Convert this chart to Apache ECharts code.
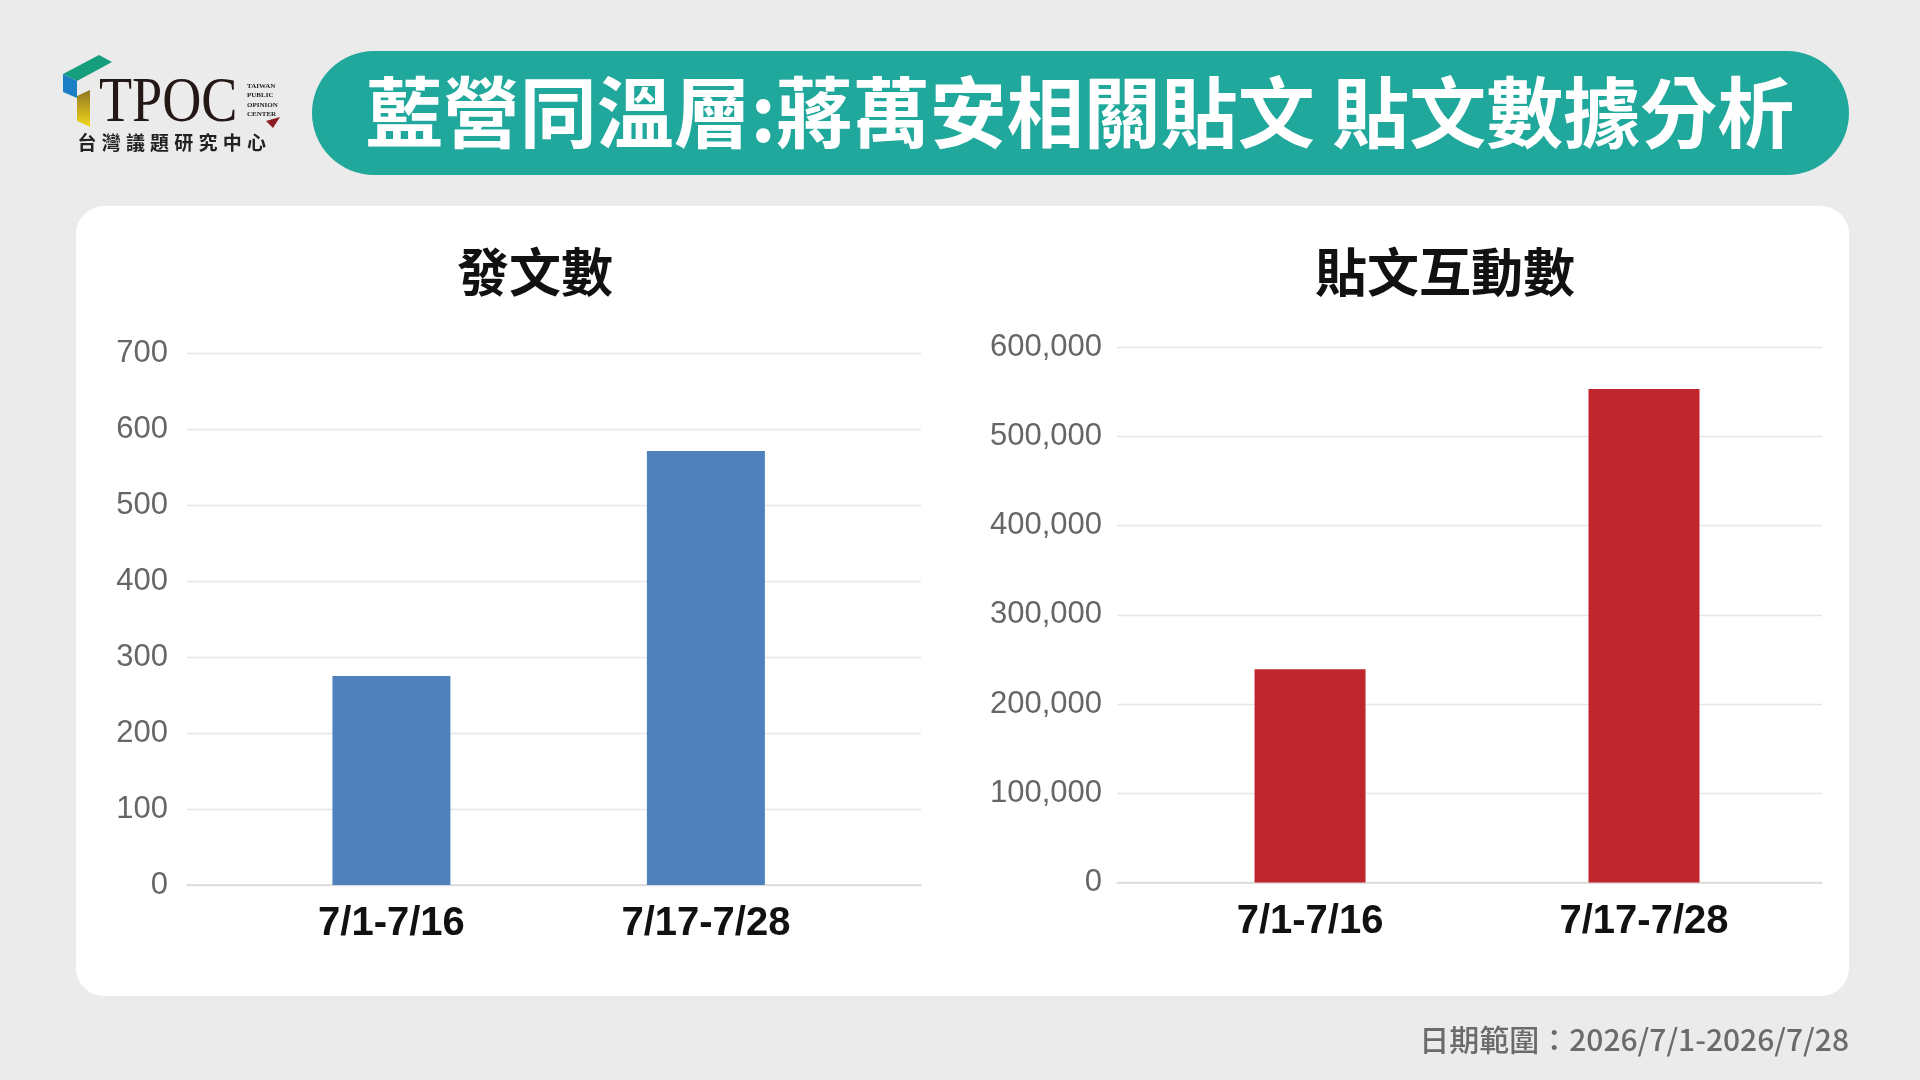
<!DOCTYPE html>
<html>
<head>
<meta charset="utf-8">
<script src="https://cdn.jsdelivr.net/npm/echarts@6/dist/echarts.min.js"></script>
<style>
  html, body { margin: 0; padding: 0; background: #ebebeb; }
  #chart { width: 1920px; height: 1080px; }
</style>
</head>
<body>
<div id="chart"></div>
<script>
// ============ 數據 ============
const periods = ['7/1-7/16', '7/17-7/28']
const postCounts = [275, 571]
const engagements = [239000, 553000]
const postAxis = { max: 700, interval: 100 }
const engageAxis = { max: 600000, interval: 100000 }

const mainTitle = '藍營同溫層:蔣萬安相關貼文 貼文數據分析'
const leftTitle = '發文數'
const rightTitle = '貼文互動數'
const footNote = '日期範圍：2026/7/1-2026/7/28'
const orgName = '台灣議題研究中心'
const orgLines = ['TAIWAN', 'PUBLIC', 'OPINION', 'CENTER']

const CJK = '"Noto Sans CJK TC", "Noto Sans CJK SC", sans-serif'
const NUM = '"Liberation Sans", Arial, sans-serif'

const chart = echarts.init(document.getElementById('chart'))

function withComma(v) {
  return String(v).replace(/\B(?=(\d{3})+(?!\d))/g, ',')
}

// 分類位置用數值軸，讓長條靠近中間
function categoryAxis(gridIndex, min, max) {
  return {
    type: 'value',
    gridIndex,
    min,
    max,
    splitLine: { show: false },
    axisTick: { show: false },
    axisLine: { show: true, onZero: false, lineStyle: { color: '#d9d9d9', width: 1.5 } },
    axisLabel: {
      customValues: [0, 1],
      formatter: (v) => periods[Math.round(v)] || '',
      color: '#111',
      fontFamily: NUM,
      fontWeight: 'bold',
      fontSize: 40,
      margin: 19,
    },
  }
}

function valueAxis(gridIndex, cfg, fmt) {
  return {
    type: 'value',
    gridIndex,
    min: 0,
    max: cfg.max,
    interval: cfg.interval,
    axisLine: { show: false, onZero: false },
    axisTick: { show: false },
    splitLine: { lineStyle: { color: '#e6e6e6', width: 1.3 } },
    axisLabel: {
      color: '#666',
      fontFamily: NUM,
      fontSize: 31,
      margin: gridIndex === 0 ? 19 : 15,
      formatter: fmt,
    },
  }
}

// ============ 標誌 ============
const logoText = orgName.split('').map((ch, i) => ({
  type: 'text',
  x: 87 + i * 24.2,
  y: 143,
  style: {
    text: ch, fill: '#222', font: 'bold 19px ' + CJK,
    align: 'center', verticalAlign: 'middle',
  },
}))

const logoLines = orgLines.map((t, i) => ({
  type: 'text',
  x: 247,
  y: 86 + i * 9.5,
  style: {
    text: t, fill: '#222', font: 'bold 7px "Liberation Serif", serif',
    align: 'left', verticalAlign: 'middle',
  },
}))

const option = {
  backgroundColor: '#ebebeb',
  animation: false,
  graphic: [
    // 標題膠囊
    {
      type: 'rect',
      shape: { x: 312, y: 51, width: 1537, height: 124, r: 62 },
      style: { fill: '#1fa89b' },
    },
    {
      type: 'text',
      x: 1080,
      y: 113,
      style: {
        text: mainTitle, fill: '#fff', font: 'bold 77px ' + CJK,
        align: 'center', verticalAlign: 'middle',
      },
    },
    // 白色卡片
    {
      type: 'rect',
      z: -10,
      shape: { x: 76, y: 206, width: 1773, height: 790, r: 28 },
      style: { fill: '#fff' },
    },
    {
      type: 'text',
      x: 535,
      y: 272,
      style: {
        text: leftTitle, fill: '#111', font: 'bold 52px ' + CJK,
        align: 'center', verticalAlign: 'middle',
      },
    },
    {
      type: 'text',
      x: 1445,
      y: 272,
      style: {
        text: rightTitle, fill: '#111', font: 'bold 52px ' + CJK,
        align: 'center', verticalAlign: 'middle',
      },
    },
    {
      type: 'text',
      x: 1849,
      y: 1040,
      style: {
        text: footNote, fill: '#6b6b6b', font: '500 30px ' + CJK,
        align: 'right', verticalAlign: 'middle',
      },
    },
    // TPOC 標誌
    {
      type: 'polygon',
      shape: { points: [[63, 74], [99, 55], [112, 62], [77, 81]] },
      style: { fill: '#149e7e' },
    },
    {
      type: 'polygon',
      shape: { points: [[63, 74], [77, 81], [77, 98], [63, 92]] },
      style: { fill: '#1b7fc4' },
    },
    {
      type: 'polygon',
      shape: { points: [[77, 96], [90, 90], [90, 127], [77, 121]] },
      style: {
        fill: new echarts.graphic.LinearGradient(0, 0, 0, 1, [
          { offset: 0, color: '#8e7520' },
          { offset: 1, color: '#f5d81c' },
        ]),
      },
    },
    {
      type: 'text',
      x: 99,
      y: 104,
      scaleX: 0.86,
      style: {
        text: 'TPOC', fill: '#231815', font: '63px "Liberation Serif", serif',
        align: 'left', verticalAlign: 'middle',
      },
    },
    ...logoLines,
    {
      type: 'polygon',
      shape: { points: [[266, 121], [280, 117], [273, 128]] },
      style: { fill: '#8a1c22' },
    },
    ...logoText,
  ],
  grid: [
    { left: 187, right: 999, top: 353, bottom: 195 },
    { left: 1117, right: 98, top: 347, bottom: 197.5 },
  ],
  xAxis: [
    categoryAxis(0, -0.65, 1.684),
    categoryAxis(1, -0.578, 1.533),
  ],
  yAxis: [
    valueAxis(0, postAxis, (v) => String(v)),
    valueAxis(1, engageAxis, withComma),
  ],
  series: [
    {
      type: 'bar',
      xAxisIndex: 0,
      yAxisIndex: 0,
      barWidth: 118,
      itemStyle: { color: '#4f81bd' },
      data: postCounts.map((v, i) => [i, v]),
    },
    {
      type: 'bar',
      xAxisIndex: 1,
      yAxisIndex: 1,
      barWidth: 111,
      itemStyle: { color: '#c0262d' },
      data: engagements.map((v, i) => [i, v]),
    },
  ],
}

chart.setOption(option)
</script>
</body>
</html>
